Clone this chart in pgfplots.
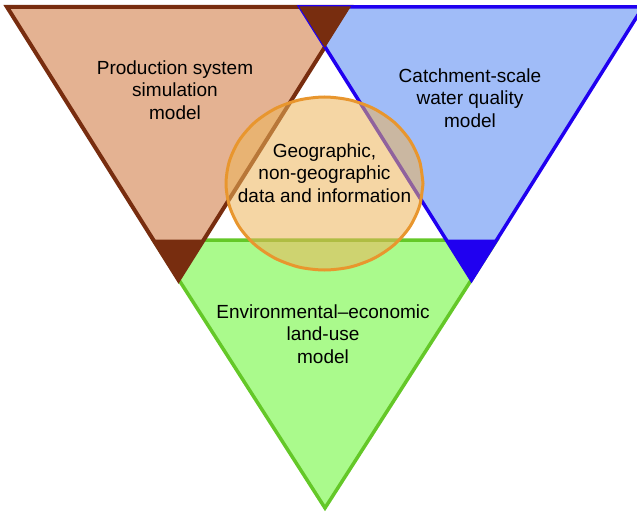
\documentclass[border=0pt]{standalone}
\usepackage{pgfplots}
\pgfplotsset{compat=1.18}
\usepackage{fontspec}
\setmainfont{Liberation Sans}
\definecolor{brownfill}{HTML}{E4B292}
\definecolor{browndark}{HTML}{782D0F}
\definecolor{bluefill}{HTML}{A0BCF8}
\definecolor{bluedark}{HTML}{2000F0}
\definecolor{greenfill}{HTML}{AAFA8C}
\definecolor{greendark}{HTML}{64C828}
\definecolor{circfill}{HTML}{EDB45A}
\definecolor{circdraw}{HTML}{E8962E}
\begin{document}
\begin{tikzpicture}
\begin{axis}[
  name=main,
  scale only axis, width=637bp, height=515bp,
  xmin=0, xmax=637, ymin=0, ymax=515, y dir=reverse,
  hide axis, clip=true, clip bounding box=upper bound,
]
% green triangle
\addplot[fill=greenfill, draw=greendark, line width=3.5bp] coordinates {(153.4,240) (496.9,240) (325,508)} -- cycle;
% brown triangle
\addplot[fill=brownfill, draw=browndark, line width=4bp] coordinates {(7,7) (350,7) (178.5,280)} -- cycle;
% blue triangle
\addplot[fill=bluefill, draw=bluedark, line width=3.5bp] coordinates {(300,7) (643,7) (471.5,280)} -- cycle;
% overlaps
\addplot[fill=browndark, draw=browndark, line width=1bp] coordinates {(300,7) (350,7) (325,46.8)} -- cycle;
\addplot[fill=browndark, draw=browndark, line width=1bp] coordinates {(153.4,240) (203.6,240) (178.5,280)} -- cycle;
\addplot[fill=bluedark, draw=bluedark, line width=1bp] coordinates {(446.5,240) (496.9,240) (471.5,280)} -- cycle;
% ellipse
\addplot[fill=circfill, fill opacity=0.55, draw=circdraw, line width=3bp, smooth] coordinates {
(423.0,183.5) (419.6,205.9) (409.8,226.8) (394.2,244.7) (373.8,258.4) (350.0,267.1)
(324.5,270.0) (299.0,267.1) (275.3,258.4) (254.9,244.7) (239.2,226.8) (229.4,205.9)
(226.0,183.5) (229.4,161.1) (239.2,140.3) (254.9,122.3) (275.3,108.6) (299.0,100.0)
(324.5,97.0) (350.0,100.0) (373.8,108.6) (394.2,122.3) (409.8,140.3) (419.6,161.1)
(423.0,183.5)} -- cycle;
\tikzset{lbl/.style={align=center, font=\fontsize{19bp}{22.5bp}\selectfont, text=black, inner sep=0pt}}
\node[lbl] at (axis cs:175,90) {Production system\\simulation\\model};
\node[lbl] at (axis cs:470,98) {Catchment-scale\\water quality\\model};
\node[lbl] at (axis cs:324.5,173) {Geographic,\\non-geographic\\data and information};
\node[lbl] at (axis cs:323,334) {Environmental--economic\\land-use\\model};
\end{axis}
\pgfresetboundingbox
\useasboundingbox (main.south west) rectangle (main.north east);
\end{tikzpicture}
\end{document}
